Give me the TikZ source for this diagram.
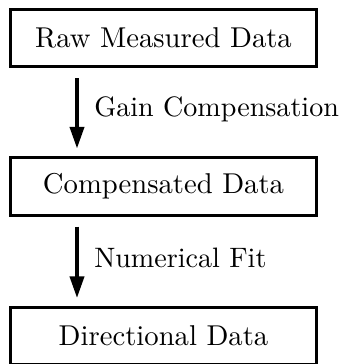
\documentclass[tikz,border=0pt]{standalone}
\usetikzlibrary{arrows.meta}
\begin{document}
\begin{tikzpicture}[x=0.3488pt,y=-0.3488pt,
  databox/.style={draw,line width=1.05pt,rectangle,minimum width=106.8pt,minimum height=20pt,inner sep=0pt},
  flowarrow/.style={line width=1.05pt,-{Triangle[length=7.5pt,width=5pt]}},
  steplabel/.style={anchor=west,inner sep=0pt}]
\useasboundingbox (0,0) rectangle (343,364);
\node[databox] (raw) at (163.5,38) {Raw Measured Data};
\node[databox] (comp) at (163.5,186.5) {Compensated Data};
\node[databox] (dir) at (163.5,336) {Directional Data};
\coordinate (ax) at (77,0);
\draw[flowarrow,shorten <=3.5pt,shorten >=2.8pt] (raw.south -| ax) -- (comp.north -| ax)
  node[midway,steplabel,xshift=5.5pt,yshift=1pt] (l1) {\fontsize{9.8pt}{12pt}\selectfont Gain Compensation};
\draw[flowarrow,shorten <=3.5pt,shorten >=2.8pt] (comp.south -| ax) -- (dir.north -| ax)
  node[midway,steplabel,xshift=5.5pt,yshift=1pt] (l2) {\fontsize{9.8pt}{12pt}\selectfont Numerical Fit};
\end{tikzpicture}
\end{document}
